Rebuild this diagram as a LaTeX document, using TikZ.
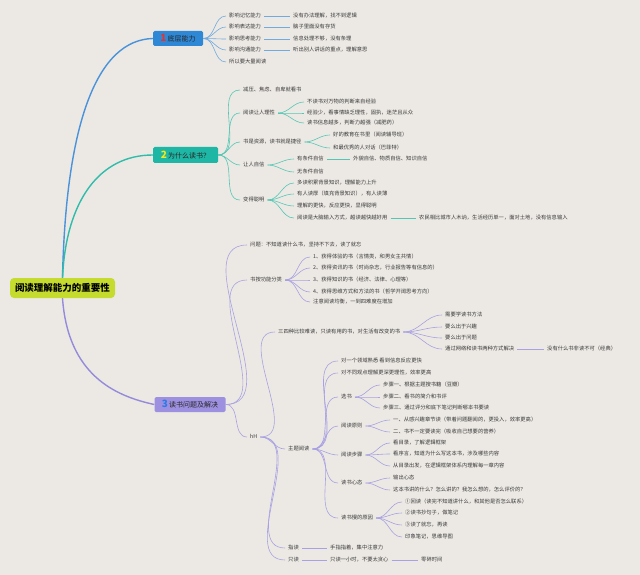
\documentclass[tikz,border=0pt]{standalone}
\usepackage{fontspec}
\newfontfamily\cjk{Noto Sans CJK SC}
\definecolor{bgpaper}{HTML}{ECE9E4}
\definecolor{txtgray}{HTML}{3A3A3A}
\definecolor{rootgreen}{HTML}{C5DB2E}
\definecolor{boxA}{HTML}{2F88D6}
\definecolor{lineA}{HTML}{4A92DA}
\definecolor{thinA}{HTML}{72AADF}
\definecolor{boxB}{HTML}{1EB6A4}
\definecolor{lineB}{HTML}{2FBCAB}
\definecolor{thinB}{HTML}{55C6B4}
\definecolor{boxC}{HTML}{9D90E0}
\definecolor{lineC}{HTML}{958BDA}
\definecolor{thinC}{HTML}{A9A1E2}
\definecolor{numA}{HTML}{E8322E}
\definecolor{numB}{HTML}{F5E81A}
\definecolor{numC}{HTML}{2C7BE5}
\usetikzlibrary{positioning}
\newcommand\bignum[2]{{\color{#1}\fontsize{10}{10}\selectfont\bfseries #2}\,}

\begin{document}
\begin{tikzpicture}[x=1pt,y=-1pt,
  txt/.style={anchor=west,inner xsep=3pt,inner ysep=1pt,text=txtgray,
    text height=4.4pt,text depth=1.1pt,font=\cjk\fontsize{5.3}{6}\selectfont},
  topic/.style={rounded corners=1.5pt,inner sep=0pt,text=black!85,
    font=\cjk\fontsize{7}{8}\selectfont},
  lnA/.style={draw=thinA,line width=0.6pt},
  lnB/.style={draw=thinB,line width=0.6pt},
  lnC/.style={draw=thinC,line width=0.6pt},
  trunk/.style={line width=1.4pt}]
\fill[bgpaper] (0,0) rectangle (640,575);
\useasboundingbox (0,0) rectangle (640,575);

% root and the three topics
\node[fill=rootgreen,rounded corners=4pt,minimum width=105pt,minimum height=20pt,
  font=\cjk\bfseries\fontsize{9.5}{10}\selectfont] (root) at (62.5,288) {阅读理解能力的重要性};
\node[topic,fill=boxA,minimum width=50pt,minimum height=15pt] (m1) at (178,38.5) {\bignum{numA}{1}底层能力};
\node[topic,fill=boxB,minimum width=65pt,minimum height=16pt] (m2) at (185.5,155) {\bignum{numB}{2}为什么读书？};
\node[topic,fill=boxC,minimum width=71pt,minimum height=15pt] (m3) at (190,404.5) {\bignum{numC}{3}读书问题及解决};
\draw[trunk,lineA] (root.north) .. controls (66,120) and (98,40) .. (m1.west);
\draw[trunk,lineB] (root.north) .. controls (66,200) and (100,155) .. (m2.west);
\draw[trunk,lineC] (root.south) .. controls (68,375) and (115,396) .. (m3.west);

% 1
\node[txt] (a1) at (226,16) {影响记忆能力};
\node[txt] (a2) at (226,27) {影响表达能力};
\node[txt] (a3) at (226,39) {影响思考能力};
\node[txt] (a4) at (226,50) {影响沟通能力};
\node[txt] (a5) at (226,62) {所以要大量阅读};
\node[txt] (ra1) at (290,16) {没有办法理解，找不到逻辑};
\node[txt] (ra2) at (290,27) {脑子里面没有存货};
\node[txt] (ra3) at (290,39) {信息处理不够，没有条理};
\node[txt] (ra4) at (290,50) {听出别人讲话的重点，理解意思};
\draw[lnA] (m1.east) to[out=0,in=180] (a1.west);
\draw[lnA] (m1.east) to[out=0,in=180] (a2.west);
\draw[lnA] (m1.east) to[out=0,in=180] (a3.west);
\draw[lnA] (m1.east) to[out=0,in=180] (a4.west);
\draw[lnA] (m1.east) to[out=0,in=180] (a5.west);
\draw[lnA] (a1.east) -- (ra1.west);
\draw[lnA] (a2.east) -- (ra2.west);
\draw[lnA] (a3.east) -- (ra3.west);
\draw[lnA] (a4.east) -- (ra4.west);

% 2
\node[txt] (b1) at (240,90) {减压、焦虑、自卑就看书};
\node[txt] (b2) at (240,113) {阅读让人理性};
\node[txt] (b3) at (240,142) {书是资源，读书就是捷径};
\node[txt] (b4) at (240,165) {让人自信};
\node[txt] (b5) at (240,200) {变得聪明};
\node[txt] (b21) at (304,102) {不读书对万物的判断来自经验};
\node[txt] (b22) at (304,113) {经验少，看事情缺乏理性，固执，迷茫且从众};
\node[txt] (b23) at (304,123) {读书信息越多，判断力越强（减肥药）};
\node[txt] (b31) at (330,135) {好的教育在书里（阅读辅导班）};
\node[txt] (b32) at (330,148) {和最优秀的人对话（巴菲特）};
\node[txt] (b41) at (294,159) {有条件自信};
\node[txt] (b42) at (294,172) {无条件自信};
\node[txt] (rb41) at (350,159) {外貌自信、物质自信、知识自信};
\node[txt] (b51) at (294,183) {多读积累背景知识，理解能力上升};
\node[txt] (b52) at (294,194) {有人读厚（填充背景知识），有人读薄};
\node[txt] (b53) at (294,206) {理解的更快，反应更快，显得聪明};
\node[txt] (b54) at (294,218) {阅读是大脑输入方式，越读越快越好用};
\node[txt] (rb54) at (416,218) {农民相比城市人木讷，生活经历单一，面对土地，没有信息输入};
\draw[lnB] (m2.east) to[out=0,in=180] (b1.west);
\draw[lnB] (m2.east) to[out=0,in=180] (b2.west);
\draw[lnB] (m2.east) to[out=0,in=180] (b3.west);
\draw[lnB] (m2.east) to[out=0,in=180] (b4.west);
\draw[lnB] (m2.east) to[out=0,in=180] (b5.west);
\draw[lnB] (b2.east) to[out=0,in=180] (b21.west);
\draw[lnB] (b2.east) to[out=0,in=180] (b22.west);
\draw[lnB] (b2.east) to[out=0,in=180] (b23.west);
\draw[lnB] (b3.east) to[out=0,in=180] (b31.west);
\draw[lnB] (b3.east) to[out=0,in=180] (b32.west);
\draw[lnB] (b4.east) to[out=0,in=180] (b41.west);
\draw[lnB] (b4.east) to[out=0,in=180] (b42.west);
\draw[lnB] (b41.east) -- (rb41.west);
\draw[lnB] (b5.east) to[out=0,in=180] (b51.west);
\draw[lnB] (b5.east) to[out=0,in=180] (b52.west);
\draw[lnB] (b5.east) to[out=0,in=180] (b53.west);
\draw[lnB] (b5.east) to[out=0,in=180] (b54.west);
\draw[lnB] (b54.east) -- (rb54.west);

% 3
\node[txt] (c1) at (247,245) {问题：不知道读什么书，坚持不下去，读了就忘};
\node[txt] (c2) at (247,280) {书按功能分类};
\node[txt] (c3) at (247,437) {hH};
\node[txt] (c21) at (310,257) {1、获得体验的书（言情类，和男女主共情）};
\node[txt] (c22) at (310,268) {2、获得资讯的书（时尚杂志，行业报告等有信息的）};
\node[txt] (c23) at (310,280) {3、获得知识的书（经济、法律、心理等）};
\node[txt] (c24) at (310,292) {4、获得思维方式和方法的书（哲学开阔思考方向）};
\node[txt] (c25) at (310,302) {注意阅读均衡，一到四难度在增加};
\node[txt] (c31) at (275,332) {三四种比较难读，只读有用的书，对生活有改变的书};
\node[txt] (c32) at (285,449) {主题阅读};
\node[txt] (c33) at (285,548) {指读};
\node[txt] (c34) at (285,560) {只读};
\node[txt] (c311) at (442,315) {需要学读书方法};
\node[txt] (c312) at (442,327) {要么出于兴趣};
\node[txt] (c313) at (442,338) {要么出于问题};
\node[txt] (c314) at (442,349) {通过网络和读书两种方式解决};
\node[txt] (rc314) at (544,349) {没有什么书非读不可（经典）};
\node[txt] (rc33) at (327,548) {手指指着，集中注意力};
\node[txt] (rc34) at (327,560) {只读一小时，不要太贪心};
\node[txt] (rrc34) at (418,560) {零碎时间};
\node[txt] (d1) at (338,361) {对一个领域熟悉 看到信息反应更快};
\node[txt] (d2) at (338,373) {对不同观点理解更深更理性，效率更高};
\node[txt] (d3) at (338,397) {选书};
\node[txt] (d4) at (338,426) {阅读原则};
\node[txt] (d5) at (338,455) {阅读步骤};
\node[txt] (d6) at (338,483) {读书心态};
\node[txt] (d7) at (338,518) {读书慢的原因};
\node[txt] (d31) at (380,385) {步骤一、根据主题搜书籍（豆瓣）};
\node[txt] (d32) at (380,397) {步骤二、看书的简介和书评};
\node[txt] (d33) at (380,408) {步骤三、通过评分和底下笔记判断哪本书要读};
\node[txt] (d41) at (390,420) {一、从感兴趣章节读（带着问题翻阅的，更投入，效率更高）};
\node[txt] (d42) at (390,432) {二、书不一定要读完（吸收自己想要的营养）};
\node[txt] (d51) at (390,443) {看目录，了解逻辑框架};
\node[txt] (d52) at (390,454) {看序言，知道为什么写这本书，涉及哪些内容};
\node[txt] (d53) at (390,466) {从目录出发，在逻辑框架体系内理解每一章内容};
\node[txt] (d61) at (390,478) {输出心态};
\node[txt] (d62) at (390,490) {这本书讲的什么？怎么讲的？我怎么想的，怎么评价的？};
\node[txt] (d71) at (402,502) {①回读（读完不知道讲什么，和其他是否怎么联系）};
\node[txt] (d72) at (402,513) {②读书抄句子，做笔记};
\node[txt] (d73) at (402,525) {③读了就忘，再读};
\node[txt] (d74) at (402,537) {印象笔记，思维导图};
\draw[lnC] (m3.east) to[out=0,in=180] (c1.west);
\draw[lnC] (m3.east) to[out=0,in=180] (c2.west);
\draw[lnC] (m3.east) to[out=0,in=180] (c3.west);
\draw[lnC] (c2.east) to[out=0,in=180] (c21.west);
\draw[lnC] (c2.east) to[out=0,in=180] (c22.west);
\draw[lnC] (c2.east) to[out=0,in=180] (c23.west);
\draw[lnC] (c2.east) to[out=0,in=180] (c24.west);
\draw[lnC] (c2.east) to[out=0,in=180] (c25.west);
\draw[lnC] (c3.east) to[out=0,in=180] (c31.west);
\draw[lnC] (c3.east) to[out=0,in=180] (c32.west);
\draw[lnC] (c3.east) to[out=0,in=180] (c33.west);
\draw[lnC] (c3.east) to[out=0,in=180] (c34.west);
\draw[lnC] (c31.east) to[out=0,in=180] (c311.west);
\draw[lnC] (c31.east) to[out=0,in=180] (c312.west);
\draw[lnC] (c31.east) to[out=0,in=180] (c313.west);
\draw[lnC] (c31.east) to[out=0,in=180] (c314.west);
\draw[lnC] (c314.east) -- (rc314.west);
\draw[lnC] (c33.east) -- (rc33.west);
\draw[lnC] (c34.east) -- (rc34.west);
\draw[lnC] (rc34.east) -- (rrc34.west);
\draw[lnC] (c32.east) to[out=0,in=180] (d1.west);
\draw[lnC] (c32.east) to[out=0,in=180] (d2.west);
\draw[lnC] (c32.east) to[out=0,in=180] (d3.west);
\draw[lnC] (c32.east) to[out=0,in=180] (d4.west);
\draw[lnC] (c32.east) to[out=0,in=180] (d5.west);
\draw[lnC] (c32.east) to[out=0,in=180] (d6.west);
\draw[lnC] (c32.east) to[out=0,in=180] (d7.west);
\draw[lnC] (d3.east) to[out=0,in=180] (d31.west);
\draw[lnC] (d3.east) to[out=0,in=180] (d32.west);
\draw[lnC] (d3.east) to[out=0,in=180] (d33.west);
\draw[lnC] (d4.east) to[out=0,in=180] (d41.west);
\draw[lnC] (d4.east) to[out=0,in=180] (d42.west);
\draw[lnC] (d5.east) to[out=0,in=180] (d51.west);
\draw[lnC] (d5.east) to[out=0,in=180] (d52.west);
\draw[lnC] (d5.east) to[out=0,in=180] (d53.west);
\draw[lnC] (d6.east) to[out=0,in=180] (d61.west);
\draw[lnC] (d6.east) to[out=0,in=180] (d62.west);
\draw[lnC] (d7.east) to[out=0,in=180] (d71.west);
\draw[lnC] (d7.east) to[out=0,in=180] (d72.west);
\draw[lnC] (d7.east) to[out=0,in=180] (d73.west);
\draw[lnC] (d7.east) to[out=0,in=180] (d74.west);
\end{tikzpicture}
\end{document}
